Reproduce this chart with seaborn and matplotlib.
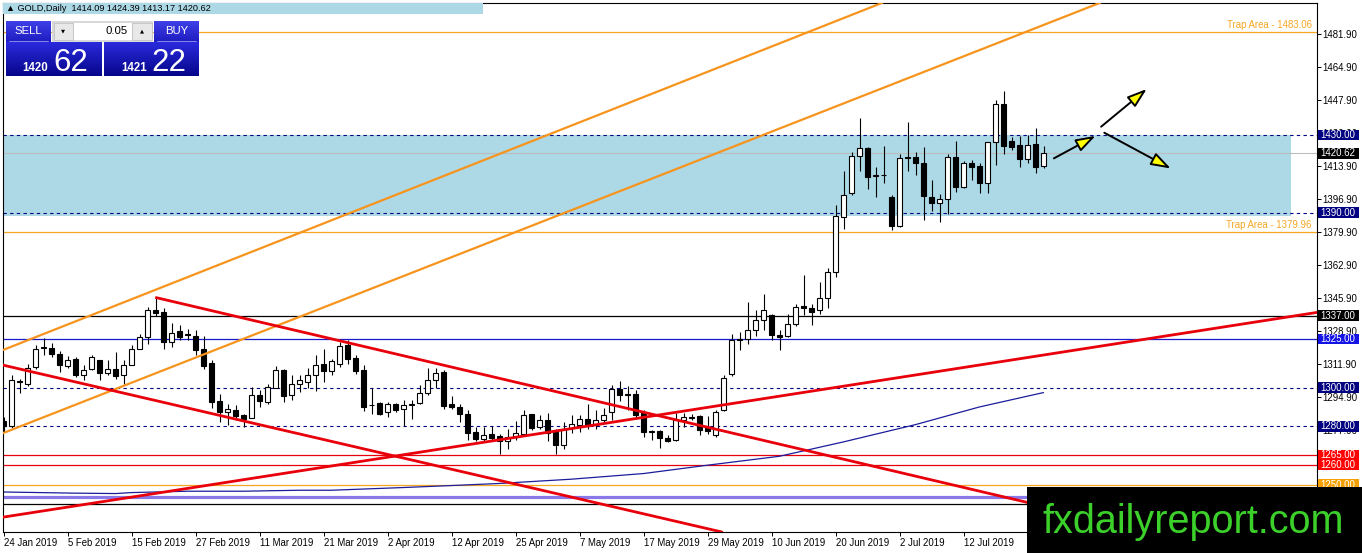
import numpy as np
import matplotlib
matplotlib.use('Agg')
import matplotlib.pyplot as plt
import matplotlib.transforms as mtransforms
from matplotlib.patches import Rectangle, FancyArrowPatch
import matplotlib.colors as mcolors
import seaborn as sns

sns.set_style('white')
plt.rcParams['font.family'] = ['Liberation Sans', 'DejaVu Sans']

# ---------------- data ----------------
opens = [1283, 1280, 1303, 1302, 1310.6, 1320.4, 1320.6, 1317.5, 1311, 1314.9,
         1306.6, 1309.7, 1314, 1307.5, 1309.7, 1306.3, 1311.8, 1320, 1326, 1340,
         1339, 1323.5, 1329, 1327.4, 1326.4, 1320, 1312.6, 1293, 1287.2, 1288.3,
         1286, 1284.5, 1296.3, 1292.5, 1300, 1309.2, 1296, 1302, 1302.8, 1306.3,
         1312.3, 1308.5, 1312.3, 1321.8, 1315.4, 1309.2, 1291, 1292, 1287.4, 1291.7,
         1289.1, 1291.2, 1292, 1297.2, 1303.7, 1308, 1291.4, 1290, 1286.5, 1277.1,
         1273.6, 1275.9, 1274.8, 1272.3, 1274.5, 1276.2, 1286.2, 1279.7, 1283.1, 1277.1,
         1270.2, 1279, 1280.5, 1284, 1280.5, 1283.1, 1287.4, 1299.4, 1296.3, 1296.5,
         1286.9, 1277.1, 1277.4, 1274.1, 1272.8, 1283.1, 1284.8, 1285.4, 1279.7, 1275.5,
         1288.3, 1307.2, 1324.7, 1325, 1329.8, 1335, 1337.2, 1327.2, 1326.4, 1332.9,
         1342.2, 1341.2, 1339.8, 1346.3, 1359.6, 1387.6, 1400.3, 1419.2, 1423.1, 1409,
         1409.4, 1398.2, 1383.1, 1418.8, 1418.5, 1415.4, 1397.9, 1395.1, 1397.3, 1418.5,
         1403.4, 1415.4, 1414, 1405.4, 1426.2, 1445.8, 1427.1, 1424.8, 1417.5, 1425.2,
         1414.09]
highs = [1285, 1306.3, 1304.5, 1312, 1321.8, 1325.7, 1323, 1318.8, 1316, 1315.7,
         1311.4, 1316.6, 1314.4, 1314, 1318.3, 1314, 1321.8, 1327.8, 1341.5, 1346.4,
         1340.7, 1333, 1332, 1330, 1329.5, 1326.4, 1314, 1296.8, 1291.7, 1290.8,
         1286.5, 1300.3, 1298.9, 1301.7, 1311, 1309.7, 1306.3, 1306.3, 1310.2, 1316.6,
         1320, 1314.9, 1323.5, 1324.3, 1316.6, 1311.4, 1300, 1292.5, 1292.5, 1292,
         1293.7, 1293.4, 1301.2, 1310.2, 1310.2, 1308.9, 1295.5, 1291.7, 1288.3, 1279.7,
         1279.7, 1280, 1275.9, 1278.8, 1282.8, 1288.3, 1286.5, 1285.7, 1286.8, 1278.8,
         1282.2, 1285.7, 1285.7, 1291.4, 1288.3, 1289.5, 1301.2, 1303.4, 1300.6, 1298.6,
         1288.3, 1278.3, 1278.3, 1275.4, 1286.8, 1286.9, 1286.5, 1285.7, 1285.2, 1288.3,
         1306.3, 1327.8, 1328.6, 1344.1, 1339.8, 1348.4, 1338, 1329.5, 1338.1, 1342.9,
         1357.8, 1342.9, 1354.4, 1361.3, 1393.9, 1411.6, 1421.4, 1438.6, 1424, 1413.7,
         1424.3, 1399.1, 1420.5, 1436.9, 1421.4, 1424, 1407.1, 1399.6, 1420.5, 1426.9,
         1416.6, 1417.1, 1415.4, 1426.6, 1448.1, 1452.7, 1429.1, 1429.5, 1430, 1433.4,
         1424.39]
lows = [1277, 1279.3, 1297, 1301, 1309.7, 1317, 1315.7, 1308, 1310.2, 1305.4,
        1303.7, 1308.9, 1303.7, 1306.3, 1304.6, 1302, 1311.4, 1320, 1322.6, 1337,
        1320, 1321, 1324.3, 1324.7, 1316.6, 1309.7, 1289.6, 1282.2, 1280.5, 1283.1,
        1279.7, 1284.5, 1290, 1291.7, 1300, 1292.5, 1293.4, 1297.7, 1300, 1298,
        1302.8, 1306.3, 1310.6, 1312.3, 1307.2, 1288, 1286.5, 1285.7, 1284.8, 1287.4,
        1280, 1284, 1291.7, 1296, 1300, 1289.1, 1289.1, 1282.2, 1272.8, 1272.3,
        1272, 1272.8, 1266, 1268.5, 1273.1, 1275.4, 1278, 1278.8, 1272.5, 1266,
        1268.5, 1276.6, 1277.1, 1278.8, 1278.8, 1282.2, 1283.1, 1293.1, 1288.3, 1284,
        1274.5, 1273.1, 1269, 1272, 1272.5, 1279.7, 1283.1, 1275.4, 1276.2, 1274.5,
        1287.9, 1305.8, 1319.5, 1322.6, 1326.4, 1329.8, 1324.7, 1319.5, 1326, 1331.6,
        1337.2, 1332.1, 1338.1, 1340.7, 1357, 1381.5, 1399.1, 1411.6, 1402, 1398.2,
        1405.1, 1381, 1382.7, 1411.6, 1409.4, 1386.2, 1390.8, 1385.3, 1389.6, 1400.8,
        1402.5, 1406.8, 1400, 1400, 1414.5, 1420.2, 1422.3, 1413.7, 1415.7, 1410.6,
        1413.17]
closes = [1280, 1303.7, 1303.5, 1310.2, 1320, 1320.6, 1317.5, 1311.5, 1314.4, 1306.6,
          1309.2, 1315.7, 1307.5, 1309.7, 1306, 1311.8, 1320, 1326, 1340, 1338.4,
          1323.5, 1328.3, 1326, 1327, 1319.2, 1311, 1292.5, 1287.4, 1289.1, 1285.2,
          1284, 1296.3, 1293, 1300.3, 1308.9, 1295.5, 1302, 1303.7, 1306.3, 1311.8,
          1308.5, 1313.5, 1321.2, 1314.5, 1308.5, 1290, 1290.8, 1286.2, 1291.7, 1288.3,
          1291.2, 1291.4, 1297.2, 1303.7, 1307.5, 1290.3, 1290, 1286.5, 1276.6, 1273.6,
          1275.4, 1274, 1272.3, 1274.5, 1276.6, 1285.7, 1279.3, 1283.1, 1276.6, 1270.2,
          1278.8, 1281, 1284, 1280.2, 1283.1, 1285.7, 1299.4, 1296, 1296.4, 1285.7,
          1277.1, 1277.4, 1274.1, 1272.4, 1283.1, 1284.8, 1284.3, 1278.3, 1277.5, 1287.4,
          1305.1, 1324.7, 1325.0, 1329.8, 1335, 1340.1, 1327.2, 1326, 1332.9, 1341.5,
          1341, 1339, 1346.3, 1359.6, 1388.3, 1399.1, 1419.2, 1423.1, 1408.5, 1409.2,
          1409.6, 1383.3, 1418, 1418.3, 1415.4, 1398.6, 1394.8, 1397.3, 1418.5, 1403.4,
          1415.4, 1413.7, 1405.4, 1426.2, 1445.8, 1424.5, 1424, 1417.5, 1424.8, 1413.7,
          1420.62]

date_tick_bars = [0, 8, 16, 24, 32, 40, 48, 56, 64, 72, 80, 88, 96, 104, 112, 120]
date_labels = ['24 Jan 2019', '5 Feb 2019', '15 Feb 2019', '27 Feb 2019', '11 Mar 2019',
               '21 Mar 2019', '2 Apr 2019', '12 Apr 2019', '25 Apr 2019', '7 May 2019',
               '17 May 2019', '29 May 2019', '10 Jun 2019', '20 Jun 2019', '2 Jul 2019',
               '12 Jul 2019']
price_ticks = [1481.9, 1464.9, 1447.9, 1430.9, 1413.9, 1396.9, 1379.9, 1362.9,
               1345.9, 1328.9, 1311.9, 1294.9, 1277.9, 1260.9]

# moving average (read at sample bars)
ma_bars = [0, 9, 14, 16, 23, 30, 37, 41, 50, 57, 62, 71, 80, 88, 97, 105, 114, 122, 130]
ma_values = [1246.2, 1245.6, 1245.4, 1245.9, 1246.6, 1246.6, 1247.1, 1247.1, 1248.5,
             1249.7, 1250.6, 1252.8, 1255.7, 1260.0, 1264.6, 1272.0, 1280.9, 1290.0, 1297.4]

# horizontal levels
trap_high, trap_low = 1483.06, 1379.96
zone_top, zone_bottom = 1430.0, 1388.3
zone_right_bar = 160.9
dashed_levels = [1430.0, 1390.0, 1300.0, 1280.0]
current_price = 1420.62
black_level = 1337.0
blue_level = 1325.0
red_levels = [1265.0, 1260.0]
orange_level = 1250.0
violet_level = 1243.5
black_low_level = 1240.0

# trendlines: (bar1, price1, bar2, price2)
orange_upper = (-0.44, 1318.7, 22.06, 1355.3)
orange_lower = (0.0, 1276.6, 48.7, 1355.3)
red_rising = (-0.44, 1233.0, 164.15, 1338.65)
red_falling_low = (-0.44, 1311.9, 89.9, 1225.5)
red_falling_high = (18.97, 1346.4, 127.7, 1241.1)   # ray starting at first point

# arrows: start bar, start price, end bar, end price
arrow_x0 = [131.3, 137.2, 137.6]
arrow_y0 = [1418.0, 1434.3, 1431.2]
arrow_x1 = [136.5, 142.9, 145.9]
arrow_y1 = [1429.6, 1453.7, 1412.8]

# ---------------- figure ----------------
W, H = 1362, 553
fig = plt.figure(figsize=(W / 100, H / 100), dpi=100)
fig.patch.set_facecolor('white')
axl, axr, axb, axt = 2.7, 1316.7, 532.0, 2.7
ax = fig.add_axes([axl / W, (H - axb) / H, (axr - axl) / W, (axb - axt) / H])
ax.set_facecolor('white')

NAVY = '#000080'
ORANGE = '#f5a623'
TREND_ORANGE = '#f7941d'
RED = '#e8000b'

# zone rectangle
ax.add_patch(Rectangle((-10, zone_bottom), zone_right_bar + 10, zone_top - zone_bottom,
                       facecolor='#add8e6', edgecolor='none', zorder=0.3))
# horizontal lines
ax.axhline(current_price, color='#bdbdbd', lw=0.8, zorder=0.6)
for lv in dashed_levels:
    ax.axhline(lv, color=NAVY, lw=0.8, ls=(0, (3, 3)), zorder=1)
ax.axhline(trap_high, color=ORANGE, lw=0.9, zorder=1)
ax.axhline(trap_low, color=ORANGE, lw=0.9, zorder=1)
ax.axhline(black_level, color='black', lw=0.9, zorder=1)
ax.axhline(blue_level, color='#1a1acd', lw=0.9, zorder=1)
for lv in red_levels:
    ax.axhline(lv, color=RED, lw=0.9, zorder=1)
ax.axhline(orange_level, color=ORANGE, lw=0.9, zorder=1)
ax.axhline(violet_level, color='#8878e8', lw=2.3, zorder=1)
ax.axhline(black_low_level, color='black', lw=0.9, zorder=1)

# moving average
sns.lineplot(x=ma_bars, y=ma_values, ax=ax, color='#1c1c9c', lw=0.9, zorder=1.2)

# candles
bars = np.arange(len(opens))
o = np.array(opens); h = np.array(highs); l = np.array(lows); c = np.array(closes)
ax.vlines(bars, l, h, color='black', lw=0.8, zorder=2)
up = c >= o
body_bottom = np.minimum(o, c)
body_h = np.maximum(np.abs(c - o), 0.25)
ax.bar(bars[up], body_h[up], bottom=body_bottom[up], width=0.56, color='white',
       edgecolor='black', linewidth=0.8, zorder=2.1)
ax.bar(bars[~up], body_h[~up], bottom=body_bottom[~up], width=0.56, color='black',
       edgecolor='black', linewidth=0.8, zorder=2.1)

# trendlines
for (x1, y1, x2, y2), col, lw in [(orange_upper, TREND_ORANGE, 1.6),
                                   (orange_lower, TREND_ORANGE, 1.6),
                                   (red_rising, RED, 2.0),
                                   (red_falling_low, RED, 2.0)]:
    ax.axline((x1, y1), (x2, y2), color=col, lw=lw, zorder=3)
x1, y1, x2, y2 = red_falling_high
slope = (y2 - y1) / (x2 - x1)
x_end = 175
ax.plot([x1, x_end], [y1, y1 + slope * (x_end - x1)], color=RED, lw=2.0, zorder=3,
        solid_capstyle='butt')

# arrows
for xa, ya, xb, yb in zip(arrow_x0, arrow_y0, arrow_x1, arrow_y1):
    ar = FancyArrowPatch((xa, ya), (xb, yb),
                         arrowstyle='-|>,head_length=0.6,head_width=0.2',
                         mutation_scale=20, lw=1.4, edgecolor='black',
                         facecolor='#ffff00', shrinkA=0, shrinkB=0, zorder=4)
    ax.add_patch(ar)

# trap area texts
tx = (1311.7 - axl) / (axr - axl)
blend = mtransforms.blended_transform_factory(ax.transAxes, ax.transData)
for lv in [trap_high, trap_low]:
    ax.text(tx, lv + 1.0, f'Trap Area - {lv:.2f}', transform=blend, ha='right',
            va='bottom', fontsize=6.9, color=ORANGE, zorder=5)

# axes limits and ticks
ax.set_xlim(-0.1, 164.15)
ax.set_ylim(1225.6, 1498.16)
ax.yaxis.tick_right()
ax.set_yticks(price_ticks)
ax.set_yticklabels([f'{v:.2f}' for v in price_ticks])
ax.set_xticks(date_tick_bars)
ax.set_xticklabels(date_labels)
for lb in ax.get_xticklabels():
    lb.set_ha('left')
ax.tick_params(axis='y', which='both', direction='out', length=2.6, width=0.7,
               pad=1.2, labelsize=6.9, colors='black', right=True, left=False)
ax.tick_params(axis='x', which='both', direction='out', length=2.6, width=0.7,
               pad=1.6, labelsize=6.9, colors='black', bottom=True)
for sp in ax.spines.values():
    sp.set_color('black')
    sp.set_linewidth(0.8)
    sp.set_visible(True)
ax.set_xlabel('')
ax.set_ylabel('')
ax.grid(False)

# price label boxes on the right axis
bx0 = (1317.7 - axl) / (axr - axl)
bw = 41 / (axr - axl)
bh = 10.5 / 1.941
txx = (1320.5 - axl) / (axr - axl)
label_boxes = [(1430.0, NAVY), (current_price, 'black'), (1390.0, NAVY),
               (black_level, 'black'), (blue_level, '#1414e6'), (1300.0, NAVY),
               (1280.0, NAVY), (1265.0, '#ff0000'), (1260.0, '#ff0000'),
               (orange_level, '#f5a000')]
for lv, colr in label_boxes:
    ax.add_patch(Rectangle((bx0, lv - bh / 2), bw, bh, transform=blend,
                           facecolor=colr, edgecolor='none', clip_on=False, zorder=6))
    ax.text(txx, lv, f'{lv:.2f}', transform=blend, ha='left', va='center',
            fontsize=7.0, color='white', clip_on=False, zorder=7)

# ---------------- overlay (terminal UI elements) ----------------
ov = fig.add_axes([0, 0, 1, 1], zorder=10)
ov.patch.set_visible(False)
ov.axis('off')


def grad_box(x0, y0, x1, y1, ctop, cbot, z=11):
    t = np.linspace(0, 1, 64)[:, None, None]
    a = np.array(mcolors.to_rgb(ctop))[None, None, :]
    b = np.array(mcolors.to_rgb(cbot))[None, None, :]
    img = a * (1 - t) + b * t
    img = np.repeat(img, 2, axis=1)
    ov.imshow(img, extent=(x0, x1, y1, y0), aspect='auto', zorder=z, interpolation='bilinear')


# title bar
ov.add_patch(Rectangle((3, 3), 480, 11, facecolor='#add8e6', edgecolor='none', zorder=11))
title = f'\u25b2 GOLD,Daily  {opens[-1]:.2f} {highs[-1]:.2f} {lows[-1]:.2f} {closes[-1]:.2f}'
ov.text(6, 8.9, title, fontsize=6.6, va='center', ha='left', color='black', zorder=12,
        family=['Liberation Sans', 'DejaVu Sans'])

# SELL / BUY buttons
grad_box(6, 20.7, 50.7, 41.7, '#4040e8', '#1c1cc0')
grad_box(154, 20.7, 199, 41.7, '#4040e8', '#1c1cc0')
ov.text(28, 31.5, 'SELL', fontsize=8.2, color='white', ha='center', va='center', zorder=12)
ov.text(176.5, 31.5, 'BUY', fontsize=8.2, color='white', ha='center', va='center', zorder=12)
ov.plot([9, 48], [41.3, 41.3], color='#9a9af5', lw=0.6, zorder=12)
ov.plot([157, 196], [41.3, 41.3], color='#9a9af5', lw=0.6, zorder=12)
# spinner
ov.add_patch(Rectangle((51.7, 20.7), 101.6, 21, facecolor='#d9d9d9', edgecolor='none', zorder=11))
ov.add_patch(Rectangle((53.5, 22.5), 19, 17.5, facecolor='#e8e8e8', edgecolor='#bdbdbd', lw=0.5, zorder=12))
ov.add_patch(Rectangle((73.5, 22.5), 58.5, 17.5, facecolor='white', edgecolor='none', zorder=12))
ov.add_patch(Rectangle((132, 22.5), 19.5, 17.5, facecolor='#e8e8e8', edgecolor='#bdbdbd', lw=0.5, zorder=12))
ov.text(63, 31, '\u25bc', fontsize=3.8, ha='center', va='center', color='black', zorder=13,
        family=['DejaVu Sans'])
ov.text(141.7, 31, '\u25b2', fontsize=3.8, ha='center', va='center', color='black', zorder=13,
        family=['DejaVu Sans'])
ov.text(127.5, 31.5, '0.05', fontsize=8.2, ha='right', va='center', color='black', zorder=13)
# price boxes
grad_box(6, 42.3, 101.7, 76, '#2a2ade', '#06068a')
grad_box(104.3, 42.3, 199, 76, '#2a2ade', '#06068a')
ov.text(22.7, 70.7, '1420', fontsize=8.3, fontweight='bold', color='white', ha='left',
        va='baseline', zorder=12)
ov.text(53.5, 70.7, '62', fontsize=22.5, color='white', ha='left', va='baseline', zorder=12)
ov.text(121, 70.7, '1421', fontsize=8.3, fontweight='bold', color='white', ha='left',
        va='baseline', zorder=12)
ov.text(151.5, 70.7, '22', fontsize=22.5, color='white', ha='left', va='baseline', zorder=12)

# watermark box
ov.add_patch(Rectangle((1026.7, 486.7), 340, 70, facecolor='black', edgecolor='none', zorder=14))
ov.text(1042.7, 533.3, 'fxdailyreport.com', fontsize=28.5, color='#3cd12a', ha='left',
        va='baseline', zorder=15)

ov.set_xlim(0, W)
ov.set_ylim(H, 0)

fig.savefig('out.png', dpi=100, facecolor='white')
